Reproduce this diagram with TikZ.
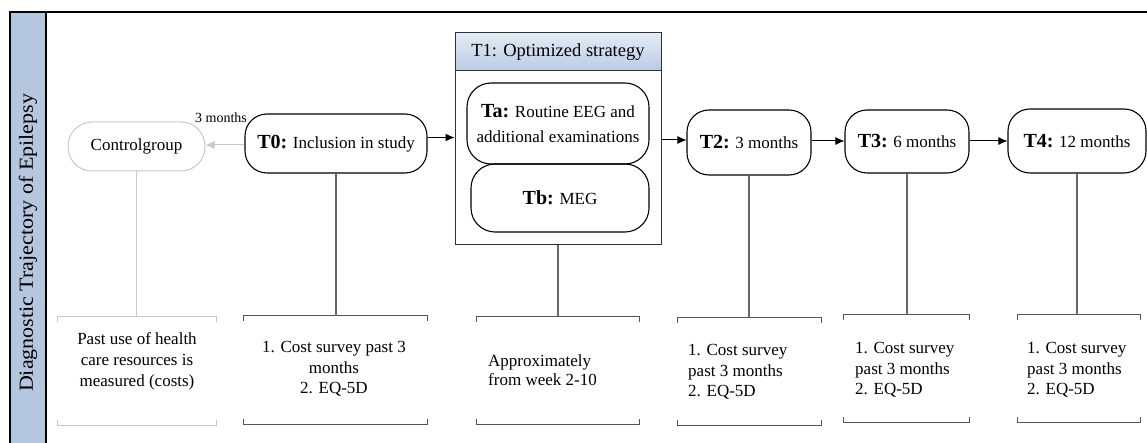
\documentclass[tikz,border=0pt]{standalone}
\usepackage{fontspec}
\setmainfont{Liberation Serif}
\usetikzlibrary{arrows.meta}
\definecolor{sidec}{RGB}{181,199,222}
\definecolor{hdtop}{RGB}{228,236,246}
\definecolor{hdbot}{RGB}{184,202,226}
\definecolor{lgray}{RGB}{200,200,200}
\definecolor{mgray}{RGB}{105,105,105}
\definecolor{bgray}{RGB}{85,85,85}
\definecolor{dgray}{RGB}{50,50,50}
\newcommand{\lb}[1]{{\fontsize{20}{24}\selectfont\bfseries #1}}
\newcommand{\drawbrk}[2]{%
  \draw[#2] ([yshift=-5pt]#1.north west) -- (#1.north west) -- (#1.north east) -- ([yshift=-5pt]#1.north east);
  \draw[#2] ([yshift=5pt]#1.south west) -- (#1.south west) -- (#1.south east) -- ([yshift=5pt]#1.south east);}
\begin{document}
\begin{tikzpicture}[x=1pt,y=-1pt,
  stage/.style={draw=black, line width=1.1pt, rounded corners=22pt, inner sep=0pt, align=center, font=\fontsize{17}{24}\selectfont},
  ctrl/.style={stage, draw=lgray, line width=1pt, rounded corners=24pt},
  brk/.style={draw=none, inner sep=0pt},
  btext/.style={inner sep=0pt, font=\fontsize{17}{20.5}\selectfont},
  link/.style={draw=mgray, line width=1.1pt},
  brkline/.style={draw=bgray, line width=1.1pt},
  arr/.style={line width=1pt, -{Latex[length=9pt,width=8pt]}},
]
\useasboundingbox (0,0) rectangle (1147,443);
\fill[white] (0,0) rectangle (1147,443);
% frame and sidebar
\fill[sidec] (10,12) rectangle (46,443);
\draw[line width=1.2pt] (10,443) -- (10,12) -- (1147,12);
\draw[line width=1.2pt] (46,12) -- (46,443);
\node[rotate=90, inner sep=0pt, font=\fontsize{20}{24}\selectfont] (sidelbl) at (28,243) {\scalebox{1.1}[1]{Diagnostic Trajectory of Epilepsy}};

% stage nodes
\node[ctrl, minimum width=137pt, minimum height=49pt] (C) at (136.5,146.5) {Controlgroup};
\node[stage, minimum width=182pt, minimum height=59pt] (T0) at (336,143.5) {\lb{T0:} Inclusion in study};
\node[draw=dgray, line width=1pt, minimum width=206pt, minimum height=212pt, inner sep=0pt] (T1) at (558,139) {};
\node[draw=dgray, line width=1pt, top color=hdtop, bottom color=hdbot, minimum width=206pt, minimum height=38pt, anchor=north, inner sep=0pt, font=\fontsize{18.5}{22}\selectfont] (T1h) at (T1.north) {T1: Optimized strategy};
\node[stage, rounded corners=24pt, minimum width=182pt, minimum height=81pt, font=\fontsize{17}{25}\selectfont] (Ta) at (558,123.5) {\lb{Ta:} Routine EEG and\\additional examinations};
\node[stage, rounded corners=24pt, minimum width=178pt, minimum height=68pt] (Tb) at (560,198) {\lb{Tb:} MEG};
\node[stage, minimum width=124pt, minimum height=65pt] (T2) at (749,142.5) {\lb{T2:} 3 months};
\node[stage, minimum width=124pt, minimum height=63pt] (T3) at (907,141.5) {\lb{T3:} 6 months};
\node[stage, minimum width=138pt, minimum height=64pt] (T4) at (1077,141) {\lb{T4:} 12 months};
\node[inner sep=0pt, font=\fontsize{14}{16}\selectfont] (lbl3) at (221,118) {3 months};

% arrows
\coordinate (hC) at (0,145);
\coordinate (h1) at (0,137.5);
\coordinate (h2) at (0,140);
\coordinate (h3) at (0,141);
\draw[arr, lgray] (T0.west |- hC) -- (C.east |- hC);
\draw[arr] (T0.east |- h1) -- (T1.west |- h1);
\draw[arr] (T1.east |- h2) -- (T2.west |- h2);
\draw[arr] (T2.east |- h3) -- (T3.west |- h3);
\draw[arr] (T3.east |- h3) -- (T4.west |- h3);

% brackets
\node[brk, minimum width=158pt, minimum height=108pt] (BC) at (137,371) {};
\node[brk, minimum width=183pt, minimum height=108pt] (B0) at (335.5,370) {};
\node[brk, minimum width=162pt, minimum height=107pt] (B1) at (558,370.5) {};
\node[brk, minimum width=143pt, minimum height=107pt] (B2) at (749.5,371.5) {};
\node[brk, minimum width=125pt, minimum height=107pt] (B3) at (906.5,368.5) {};
\node[brk, minimum width=122pt, minimum height=107pt] (B4) at (1079,368.5) {};
\drawbrk{BC}{brkline, draw=lgray}
\drawbrk{B0}{brkline}
\drawbrk{B1}{brkline}
\drawbrk{B2}{brkline}
\drawbrk{B3}{brkline}
\drawbrk{B4}{brkline}

% vertical links
\draw[link, draw=lgray] (C.south) -- (C.south |- BC.north);
\draw[link] (T0.south) -- (T0.south |- B0.north);
\draw[link] (T1.south) -- (T1.south |- B1.north);
\draw[link] (T2.south) -- (T2.south |- B2.north);
\draw[link] (T3.south) -- (T3.south |- B3.north);
\draw[link] (T4.south) -- (T4.south |- B4.north);

% bracket texts
\node[btext, align=center, font=\fontsize{17}{21}\selectfont] (BCt) at (137,361) {Past use of health\\care resources is\\measured (costs)};
\node[btext, align=center] (B0t) at (334,369) {1. Cost survey past 3\\months\\2. EQ-5D};
\node[btext, align=left, anchor=west, font=\fontsize{17}{19}\selectfont] (B1t) at (488,370) {Approximately\\from week 2-10};
\node[btext, align=left, anchor=west] (B2t) at (688,372) {1. Cost survey\\past 3 months\\2. EQ-5D};
\node[btext, align=left, anchor=west] (B3t) at (855,370) {1. Cost survey\\past 3 months\\2. EQ-5D};
\node[btext, align=left, anchor=west] (B4t) at (1027,370) {1. Cost survey\\past 3 months\\2. EQ-5D};
\end{tikzpicture}
\end{document}
